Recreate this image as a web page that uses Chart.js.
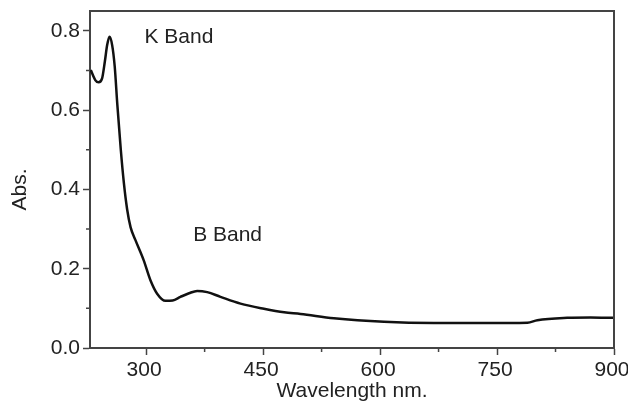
<!DOCTYPE html>
<html>
<head>
<meta charset="utf-8">
<script src="https://cdn.jsdelivr.net/npm/chart.js@4.4.1/dist/chart.umd.min.js"></script>
<style>
  html, body { margin: 0; padding: 0; background: #fff; }
  #wrap { width: 628px; height: 402px; }
</style>
</head>
<body>
<div id="wrap"><canvas id="myChart" width="628" height="402"></canvas></div>
<script>
// spectrum
var wavelength = [229, 235, 239, 243.5, 247, 250, 253, 256.4, 259.7, 263, 267.5, 271.5, 275.6, 280, 286.3,
    296.9, 305.5, 314.1, 324.8, 334, 344, 355, 365.4, 378.3, 395.3, 421, 451, 477, 498, 540.7, 605, 669, 733,
    789, 801.7, 840, 870, 900];
var absorbance = [0.701, 0.675, 0.670, 0.680, 0.722, 0.764, 0.785, 0.764, 0.710, 0.615, 0.500, 0.415, 0.350, 0.305, 0.272,
    0.221, 0.171, 0.137, 0.119, 0.120, 0.129, 0.138, 0.144, 0.141, 0.129, 0.112, 0.099, 0.090, 0.086, 0.075, 0.066, 0.063, 0.063,
    0.064, 0.070, 0.076, 0.077, 0.076];

var xTicks = [300, 450, 600, 750, 900];
var xMinorTicks = [375, 525, 675, 825];
var yTicks = [0.0, 0.2, 0.4, 0.6, 0.8];
var yMinorTicks = [0.1, 0.3, 0.5, 0.7];

var bandLabels = ['K Band', 'B Band'];
var bandX = [297.8, 360.3];
var bandY = [0.785, 0.285];

var xTitle = 'Wavelength nm.';
var yTitle = 'Abs.';

var points = wavelength.map(function (w, i) { return { x: w, y: absorbance[i] }; });

var FONT = '21px "Liberation Sans", Arial, sans-serif';
var TEXT = '#222';
var AXIS = '#444';

var extras = {
    id: 'extras',
    afterDraw: function (chart) {
        var c = chart.ctx, a = chart.chartArea;
        var xs = chart.scales.x, ys = chart.scales.y;
        c.save();
        // frame top + right
        c.strokeStyle = AXIS;
        c.lineWidth = 2;
        c.beginPath();
        c.moveTo(a.left, a.top);
        c.lineTo(a.right, a.top);
        c.lineTo(a.right, a.bottom);
        c.stroke();
        // minor ticks
        c.lineWidth = 1.5;
        c.beginPath();
        xMinorTicks.forEach(function (v) {
            var px = xs.getPixelForValue(v);
            c.moveTo(px, a.bottom);
            c.lineTo(px, a.bottom + 4);
        });
        yMinorTicks.forEach(function (v) {
            var py = ys.getPixelForValue(v);
            c.moveTo(a.left, py);
            c.lineTo(a.left - 4, py);
        });
        c.stroke();
        // band labels
        c.font = FONT;
        c.fillStyle = TEXT;
        c.textAlign = 'left';
        c.textBaseline = 'middle';
        bandLabels.forEach(function (t, i) {
            c.fillText(t, xs.getPixelForValue(bandX[i]), ys.getPixelForValue(bandY[i]));
        });
        // axis titles
        c.textAlign = 'center';
        c.fillText(xTitle, (a.left + a.right) / 2, a.bottom + 43);
        c.translate(a.left - 70, (a.top + a.bottom) / 2 + 10);
        c.rotate(-Math.PI / 2);
        c.fillText(yTitle, 0, 0);
        c.restore();
    }
};

var ctx = document.getElementById('myChart').getContext('2d');

var myChart = new Chart(ctx, {
    type: 'line',
    data: {
        datasets: [{
            data: points,
            borderColor: '#111',
            borderWidth: 2.5,
            pointRadius: 0,
            cubicInterpolationMode: 'monotone',
            fill: false
        }]
    },
    options: {
        responsive: false,
        animation: false,
        layout: { padding: { top: 11, right: 14, left: 0, bottom: 0 } },
        plugins: {
            legend: { display: false },
            tooltip: { enabled: false }
        },
        scales: {
            x: {
                type: 'linear',
                min: 228,
                max: 900,
                afterBuildTicks: function (s) { s.ticks = xTicks.map(function (v) { return { value: v }; }); },
                afterFit: function (s) { s.height = 54; s.paddingLeft = 0; s.paddingRight = 0; },
                grid: { drawOnChartArea: false, tickLength: 7, tickColor: AXIS, tickWidth: 1.5 },
                border: { color: AXIS, width: 2 },
                ticks: {
                    color: TEXT, font: { family: '"Liberation Sans", Arial', size: 21 },
                    padding: 3, maxRotation: 0, labelOffset: -2
                }
            },
            y: {
                min: 0,
                max: 0.85,
                afterBuildTicks: function (s) { s.ticks = yTicks.map(function (v) { return { value: v }; }); },
                afterFit: function (s) { s.width = 90; s.paddingTop = 0; s.paddingBottom = 0; },
                grid: { drawOnChartArea: false, tickLength: 7, tickColor: AXIS, tickWidth: 1.5 },
                border: { color: AXIS, width: 2 },
                ticks: {
                    color: TEXT, font: { family: '"Liberation Sans", Arial', size: 21 }, padding: 3,
                    callback: function (v) { return v.toFixed(1); }
                }
            }
        }
    },
    plugins: [extras]
});
</script>
</body>
</html>
